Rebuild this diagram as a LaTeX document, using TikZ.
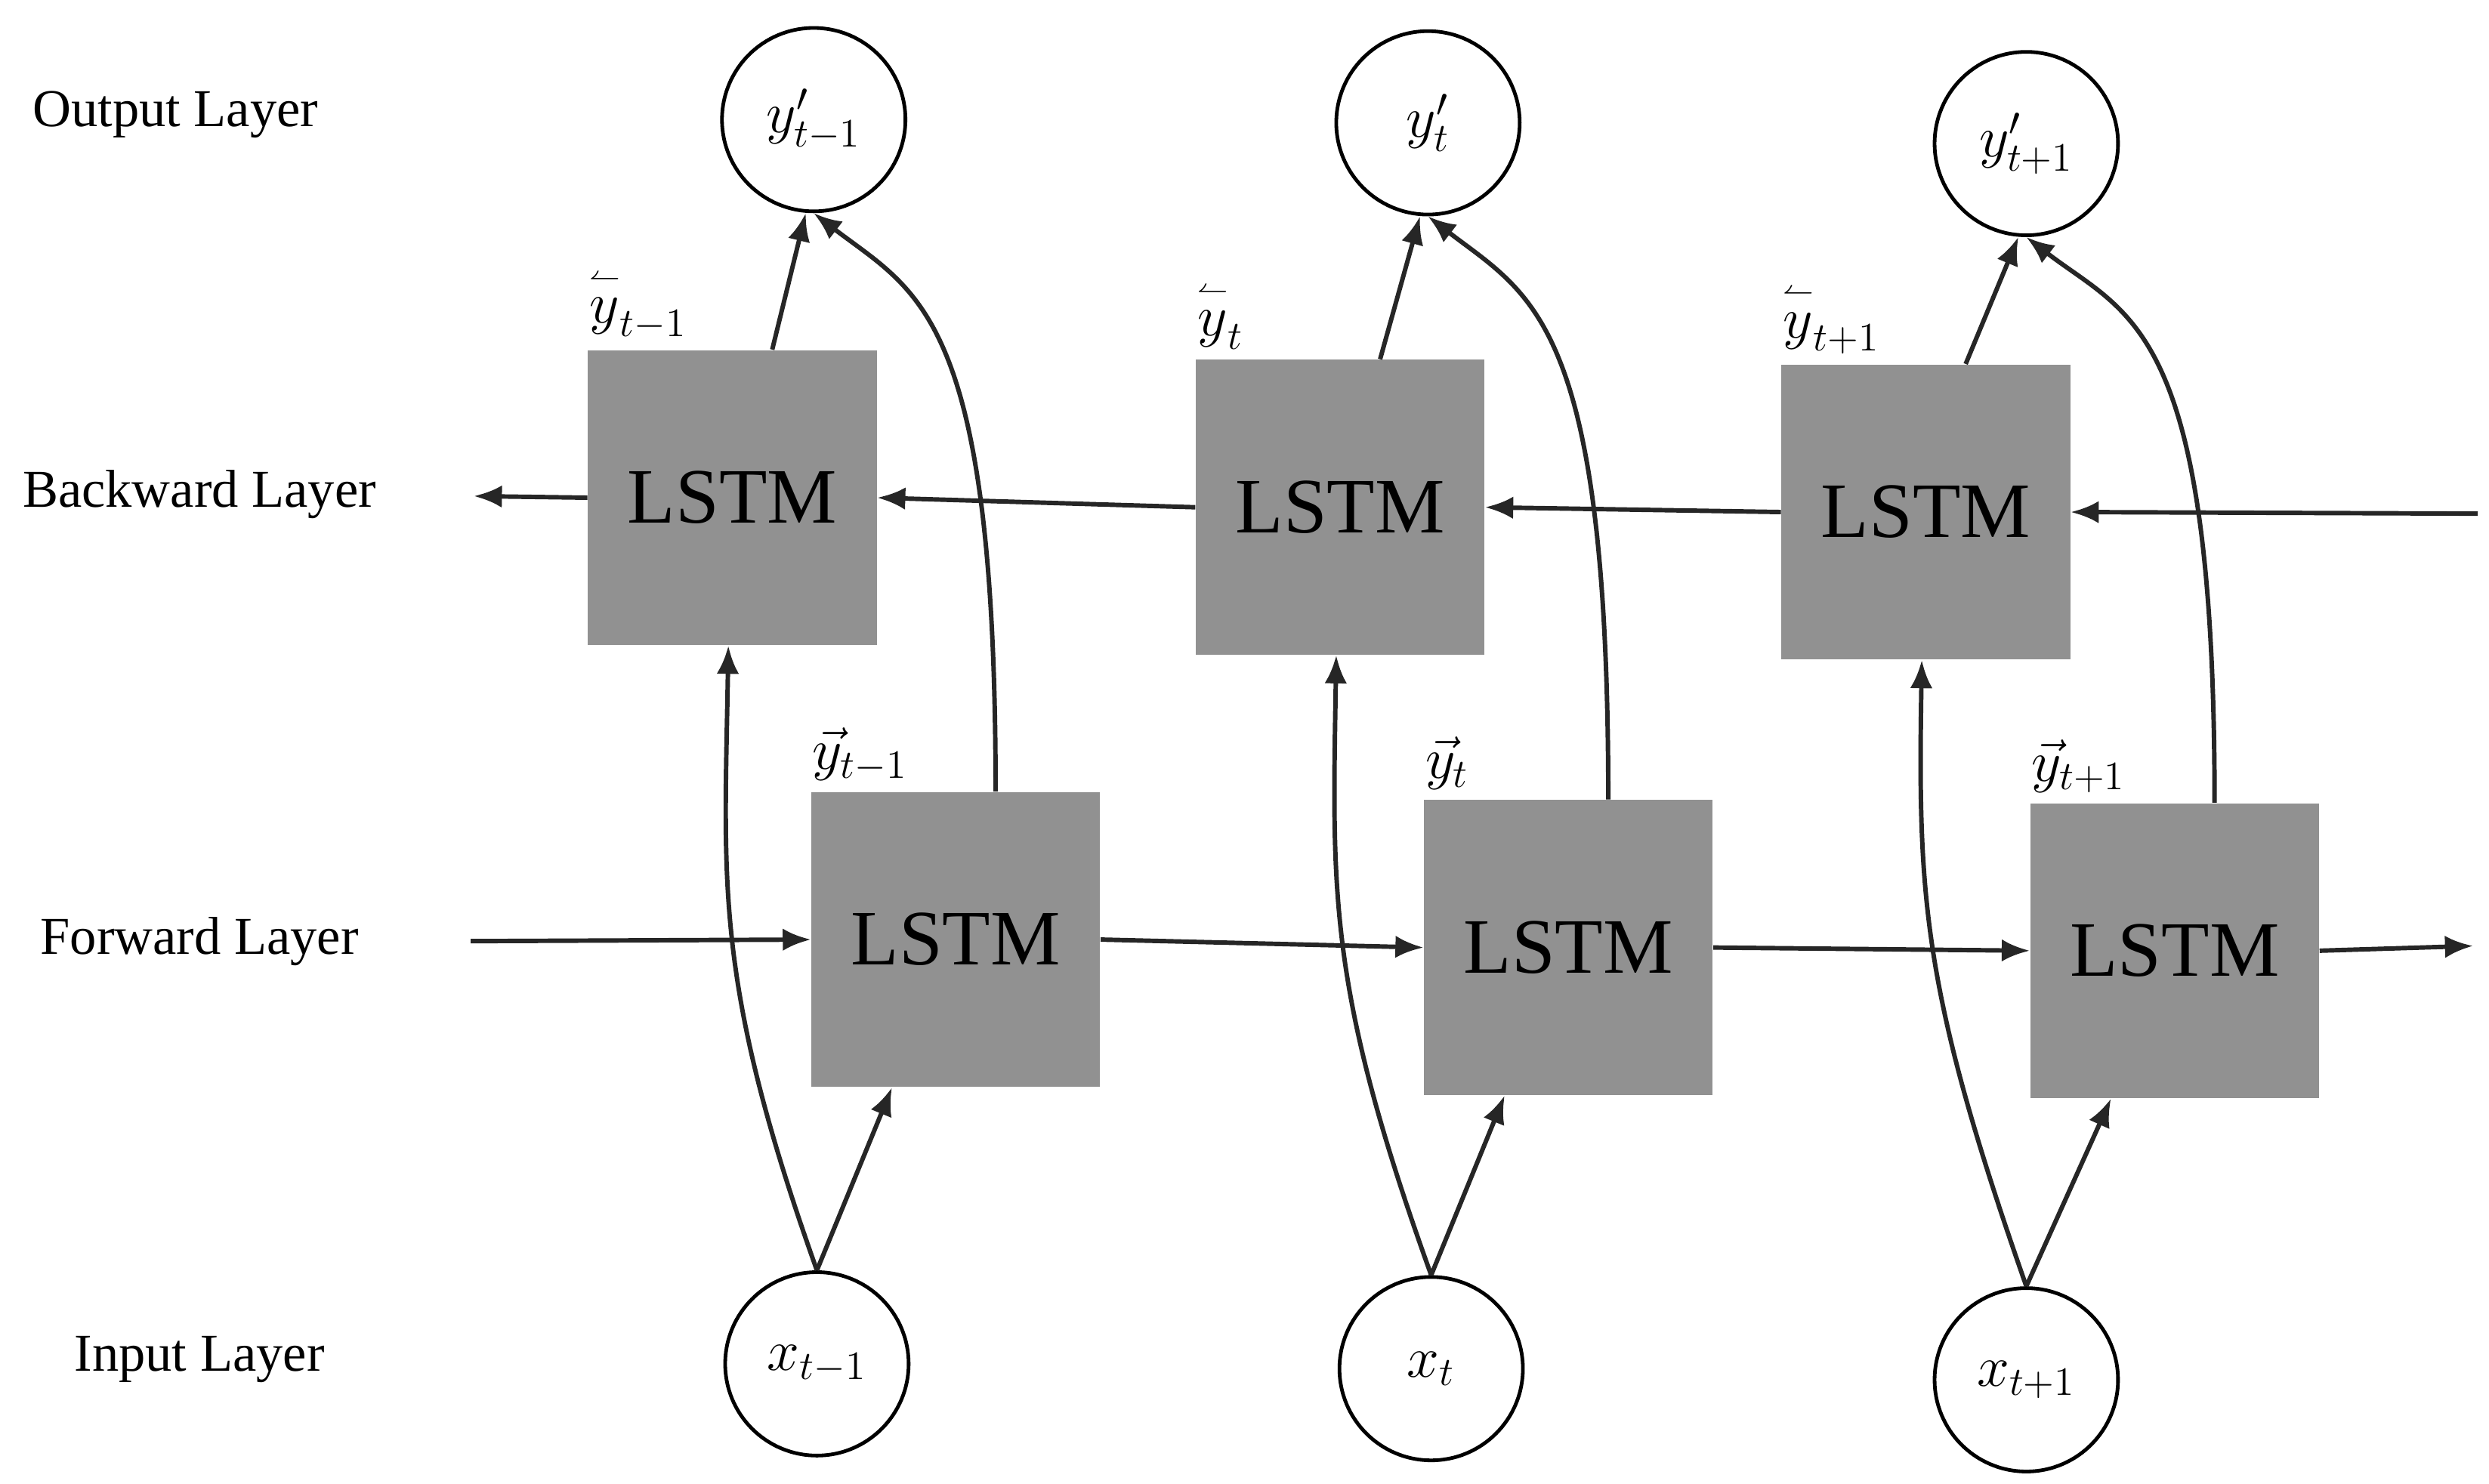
\documentclass[tikz,border=0pt]{standalone}
\usepackage{amsmath}
\usepackage{fontspec}
\newfontfamily\tms{Liberation Serif}
\usetikzlibrary{arrows.meta}
\begin{document}
\begin{tikzpicture}[x=0.02cm,y=-0.02cm,
  box/.style={draw=none,fill=black!43,minimum width=3.62cm,minimum height=3.7cm,font=\tms\fontsize{28}{30}\selectfont,inner sep=0},
  circ/.style={circle,draw,line width=1.3pt,minimum size=2.3cm,inner sep=0,font=\fontsize{22}{24}\selectfont},
  lay/.style={font=\tms\fontsize{19}{21}\selectfont},
  lab/.style={font=\fontsize{22}{24}\selectfont},
  ar/.style={-{Latex[length=10pt,width=8pt]},line width=1.6pt,black!85}]
\useasboundingbox (0,0) rectangle (1560,930);
\node[lay] (l1) at (110,72) {Output Layer};
\node[lay] (l2) at (125,310) {Backward Layer};
\node[lay] (l3) at (125,590) {Forward Layer};
\node[lay] (l4) at (125,852) {Input Layer};
\foreach \i/\ox/\oy/\ix/\iy/\bx/\by/\fx/\fy/\t in {1/510/75/512/855/459/312/599/589/{t-1},2/895/77/897/858/840/318/983/594/t,3/1270/90/1270/865/1207/321/1363/596/{t+1}}{
  \node[circ] (o\i) at (\ox,\oy) {$y'_{\t}$};
  \node[circ] (x\i) at (\ix,\iy) {$x_{\t}$};
  \node[box] (b\i) at (\bx,\by) {LSTM};
  \node[box] (f\i) at (\fx,\fy) {LSTM};
  \node[lab,anchor=south west] (bl\i) at ([xshift=-0.1cm]b\i.north west) {$\overset{\scriptscriptstyle\leftharpoonup}{y}_{\t}$};
  \node[lab,anchor=south west] (fl\i) at ([xshift=-0.1cm]f\i.north west) {$\vec{y}_{\t}$};
  \draw[ar] (x\i.north) -- ([xshift=-0.8cm]f\i.south);
  \draw[ar] (x\i.north) .. controls ([xshift=-1.3cm,yshift=-0.5cm]x\i.north |- f\i.center) and ([xshift=-0.1cm,yshift=-3cm]b\i.south) .. ([xshift=-0.05cm]b\i.south);
  \draw[ar] ([xshift=0.5cm]b\i.north) -- ([xshift=-0.1cm]o\i.south);
  \draw[ar] ([xshift=0.5cm]f\i.north) .. controls ([xshift=0.5cm,yshift=6cm]f\i.north) and ([xshift=1.3cm,yshift=-1cm]o\i.south) .. (o\i.south);
}
\coordinate (br) at (1553,322);
\coordinate (bl) at (297,311);
\coordinate (fl) at (295,590);
\coordinate (fr) at (1550,593);
\draw[ar] (br) -- (b3.east);
\draw[ar] (b3.west) -- (b2.east);
\draw[ar] (b2.west) -- (b1.east);
\draw[ar] (b1.west) -- (bl);
\draw[ar] (fl) -- (f1.west);
\draw[ar] (f1.east) -- (f2.west);
\draw[ar] (f2.east) -- (f3.west);
\draw[ar] (f3.east) -- (fr);
\end{tikzpicture}
\end{document}
